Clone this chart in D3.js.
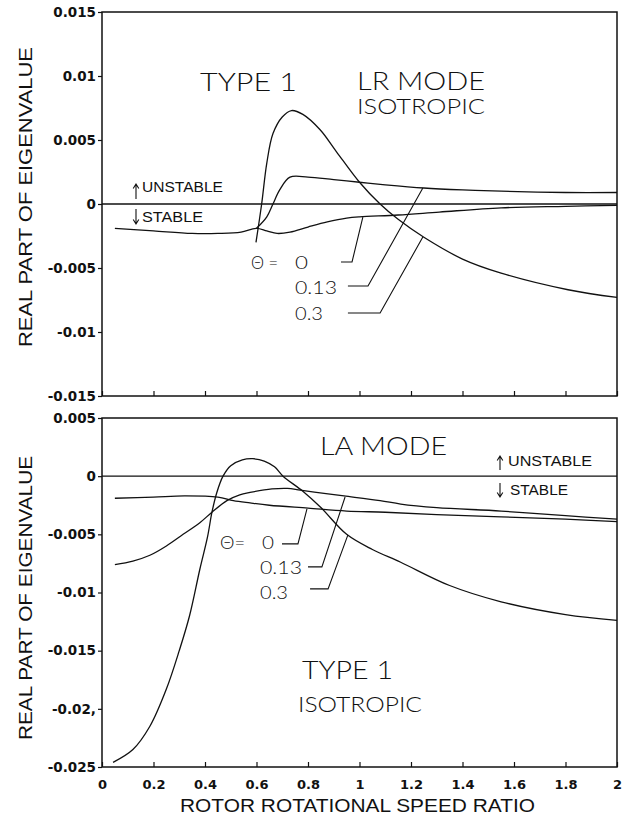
<!DOCTYPE html>
<html>
<head>
<meta charset="utf-8">
<script src="https://cdn.jsdelivr.net/npm/d3@7"></script>
<style>
  body { margin: 0; background: #fff; }
  text { fill: #111; }
</style>
</head>
<body>
<svg></svg>
<script>
// LR mode (upper panel): one x / value pair per theta
var lrX0 = [0.05, 0.2, 0.35, 0.45, 0.54, 0.6, 0.64, 0.68, 0.73, 0.8, 0.875, 0.95, 1.0, 1.15, 1.31, 1.55, 1.8, 2.0];
var lrV0 = [-0.0019, -0.0021, -0.0023, -0.0023, -0.0022, -0.0019, -0.0021, -0.0023, -0.0022, -0.0018, -0.0014, -0.0011, -0.001, -0.00086, -0.00063, -0.0003, -0.00018, -0.0001];

var lrX13 = [0.6, 0.64, 0.664, 0.69, 0.73, 0.8, 0.9, 1.0, 1.1, 1.25, 1.4, 1.55, 1.8, 2.0];
var lrV13 = [-0.0019, -0.001, 0, 0.0011, 0.0021, 0.0021, 0.0019, 0.0017, 0.0015, 0.00125, 0.0011, 0.001, 0.0009, 0.0009];

var lrX3 = [0.598, 0.62, 0.64, 0.664, 0.7, 0.736, 0.78, 0.847, 0.91, 1.0, 1.08, 1.15, 1.25, 1.4, 1.55, 1.81, 2.0];
var lrV3 = [-0.003, 0, 0.0032, 0.0055, 0.0068, 0.0073, 0.007, 0.0058, 0.0041, 0.0017, 0, -0.0012, -0.0026, -0.0043, -0.0054, -0.0067, -0.0073];

// LA mode (lower panel)
var laX0 = [0.05, 0.2, 0.32, 0.45, 0.51, 0.575, 0.65, 0.8, 0.95, 1.1, 1.3, 1.55, 1.8, 2.0];
var laV0 = [-0.0019, -0.0018, -0.0017, -0.0018, -0.0021, -0.0023, -0.0025, -0.00275, -0.003, -0.0031, -0.0033, -0.0035, -0.0037, -0.0039];

var laX13 = [0.05, 0.12, 0.186, 0.25, 0.315, 0.38, 0.427, 0.485, 0.535, 0.575, 0.66, 0.72, 0.77, 0.87, 0.94, 1.08, 1.16, 1.3, 1.55, 1.8, 2.0];
var laV13 = [-0.0076, -0.0073, -0.0068, -0.006, -0.005, -0.004, -0.0031, -0.0021, -0.0016, -0.0014, -0.0011, -0.00105, -0.0012, -0.0015, -0.0017, -0.0021, -0.0024, -0.0027, -0.003, -0.0034, -0.0037];

var laX3 = [0.043, 0.12, 0.186, 0.25, 0.3, 0.34, 0.38, 0.41, 0.427, 0.446, 0.47, 0.5, 0.545, 0.586, 0.63, 0.67, 0.703, 0.78, 0.85, 0.95, 1.05, 1.16, 1.35, 1.55, 1.8, 2.0];
var laV3 = [-0.0246, -0.0235, -0.0215, -0.0183, -0.015, -0.012, -0.008, -0.0052, -0.0031, -0.0014, 0, 0.0009, 0.0014, 0.0015, 0.0013, 0.0008, 0, -0.0013, -0.0027, -0.005, -0.0063, -0.0074, -0.0094, -0.0108, -0.0119, -0.0124];

var thetaLabels = ["0", "0.13", "0.3"];

var xTicks = [0, 0.2, 0.4, 0.6, 0.8, 1, 1.2, 1.4, 1.6, 1.8, 2];
var xTickLabels = ["0", "0.2", "0.4", "0.6", "0.8", "1", "1.2", "1.4", "1.6", "1.8", "2"];
var lrTicks = [0.015, 0.01, 0.005, 0, -0.005, -0.01, -0.015];
var lrTickLabels = ["0.015", "0.01", "0.005", "0", "-0.005", "-0.01", "-0.015"];
var laTicks = [0.005, 0, -0.005, -0.01, -0.015, -0.02, -0.025];
var laTickLabels = ["0.005", "0", "-0.005", "-0.01", "-0.015", "-0.02,", "-0.025"];

var svgWidth = 624, svgHeight = 817;

var svg = d3.select('svg')
    .attr('width', svgWidth)
    .attr('height', svgHeight)
    .style('background-color', 'white');

var x = d3.scaleLinear().domain([0, 2]).range([102, 617]);
var yTop = d3.scaleLinear().domain([-0.015, 0.015]).range([396, 12]);
var yBot = d3.scaleLinear().domain([-0.025, 0.005]).range([767, 418]);

var ink = '#111';
var tickFont = '"DejaVu Sans", sans-serif';
var labelFont = '"Liberation Sans", Arial, sans-serif';
var thinFont = 'Lato, "Liberation Sans", sans-serif';

// leader lines from the theta labels to their curve, in data units
var lrLeaders = [
    [[0.928, -0.00453], [0.971, -0.00453], [1.013, -0.00102]],
    [[0.955, -0.00641], [1.033, -0.00641], [1.246, 0.00125]],
    [[0.955, -0.00852], [1.080, -0.00852], [1.246, -0.00258]]
];
var laLeaders = [
    [[0.699, -0.00582], [0.761, -0.00582], [0.796, -0.00282]],
    [[0.800, -0.0078], [0.854, -0.0078], [0.944, -0.00179]],
    [[0.808, -0.00969], [0.878, -0.00969], [0.955, -0.00505]]
];

function zip(xs, vs) {
    return xs.map(function(d, i) { return [d, vs[i]]; });
}

function drawPanel(y, ticks, tickLabels, series, leaders, showXLabels) {
    var g = svg.append('g');
    var top = y.range()[1], bottom = y.range()[0];

    // bottom axis, ticks pointing inward
    var xAxis = d3.axisBottom(x)
        .tickValues(xTicks)
        .tickSizeInner(-5)
        .tickSizeOuter(0)
        .tickPadding(13)
        .tickFormat(function(d, i) { return showXLabels ? xTickLabels[i] : ''; });
    var xg = g.append('g')
        .attr('transform', 'translate(0,' + bottom + ')')
        .call(xAxis);
    xg.select('.domain').remove();
    xg.selectAll('line').attr('stroke', ink).attr('stroke-width', 1.2);
    xg.selectAll('text')
        .attr('font-family', tickFont)
        .attr('font-weight', 'bold')
        .attr('font-size', '13px')
        .attr('fill', ink);

    // left axis, ticks pointing outward
    var yAxis = d3.axisLeft(y)
        .tickValues(ticks)
        .tickSizeInner(4)
        .tickSizeOuter(0)
        .tickPadding(2)
        .tickFormat(function(d, i) { return tickLabels[i]; });
    var yg = g.append('g')
        .attr('transform', 'translate(' + x(0) + ',0)')
        .call(yAxis);
    yg.select('.domain').remove();
    yg.selectAll('line').attr('stroke', ink).attr('stroke-width', 1.2);
    yg.selectAll('text')
        .attr('font-family', tickFont)
        .attr('font-weight', 'bold')
        .attr('font-size', '13.5px')
        .attr('fill', ink);

    // frame
    g.append('rect')
        .attr('x', x(0))
        .attr('y', top)
        .attr('width', x(2) - x(0))
        .attr('height', bottom - top)
        .attr('fill', 'none')
        .attr('stroke', ink)
        .attr('stroke-width', 1.5);

    // zero line
    g.append('line')
        .attr('x1', x(0)).attr('x2', x(2))
        .attr('y1', y(0)).attr('y2', y(0))
        .attr('stroke', ink)
        .attr('stroke-width', 1.3);

    var line = d3.line()
        .x(function(d) { return x(d[0]); })
        .y(function(d) { return y(d[1]); })
        .curve(d3.curveCatmullRom.alpha(0.5));

    g.selectAll('path.curve')
        .data(series)
        .enter()
        .append('path')
        .attr('class', 'curve')
        .attr('d', line)
        .attr('fill', 'none')
        .attr('stroke', ink)
        .attr('stroke-width', 1.3);

    var leader = d3.line()
        .x(function(d) { return x(d[0]); })
        .y(function(d) { return y(d[1]); });

    g.selectAll('path.leader')
        .data(leaders)
        .enter()
        .append('path')
        .attr('class', 'leader')
        .attr('d', leader)
        .attr('fill', 'none')
        .attr('stroke', ink)
        .attr('stroke-width', 1.1);

    return g;
}

function label(txt, x0, base, size, len, font) {
    var t = svg.append('text')
        .attr('x', x0)
        .attr('y', base)
        .attr('font-family', font || thinFont)
        .attr('font-weight', font ? 'normal' : 300)
        .attr('font-size', size + 'px')
        .text(txt);
    if (len) t.attr('textLength', len).attr('lengthAdjust', 'spacingAndGlyphs');
    return t;
}

function arrow(ax, y1, y2) {
    // y1 = tail, y2 = head
    var dir = y2 < y1 ? 1 : -1;
    svg.append('path')
        .attr('d', 'M' + ax + ',' + y1 + 'L' + ax + ',' + y2 +
            'M' + (ax - 2.8) + ',' + (y2 + dir * 4.5) + 'L' + ax + ',' + y2 + 'L' + (ax + 2.8) + ',' + (y2 + dir * 4.5))
        .attr('fill', 'none')
        .attr('stroke', ink)
        .attr('stroke-width', 1.1);
}

drawPanel(yTop, lrTicks, lrTickLabels,
    [zip(lrX0, lrV0), zip(lrX13, lrV13), zip(lrX3, lrV3)], lrLeaders, false);
drawPanel(yBot, laTicks, laTickLabels,
    [zip(laX0, laV0), zip(laX13, laV13), zip(laX3, laV3)], laLeaders, true);

// upper panel texts
label('TYPE 1', 200, 91, 25, 97);
label('LR MODE', 357, 90, 25, 128);
label('ISOTROPIC', 357, 114, 21, 128);
label('UNSTABLE', 142, 192, 15, 81, labelFont);
label('STABLE', 142, 222, 15, 61, labelFont);
arrow(136, 199, 184);
arrow(136, 209, 224);
label('\u0398 =', 251, 269, 18, 27);
label(thetaLabels[0], 295, 269, 18, 13);
label(thetaLabels[1], 295, 294, 18, 42);
label(thetaLabels[2], 295, 320, 18, 28);

// lower panel texts
label('LA MODE', 320, 455, 25, 127);
label('UNSTABLE', 508, 466, 15, 84, labelFont);
label('STABLE', 510, 495, 15, 58, labelFont);
arrow(500, 470, 456);
arrow(500, 483, 497);
label('TYPE 1', 302, 679, 25, 91);
label('ISOTROPIC', 298, 712, 21, 124);
label('\u0398=', 220, 549, 18, 25);
label(thetaLabels[0], 262, 549, 18, 12);
label(thetaLabels[1], 260, 574, 18, 42);
label(thetaLabels[2], 260, 599, 18, 28);

// axis titles
svg.append('text')
    .attr('transform', 'translate(25,197) rotate(-90)')
    .attr('text-anchor', 'middle')
    .attr('dy', '0.35em')
    .attr('font-family', labelFont)
    .attr('font-size', '19px')
    .attr('textLength', 300)
    .attr('lengthAdjust', 'spacingAndGlyphs')
    .text('REAL PART OF EIGENVALUE');

svg.append('text')
    .attr('transform', 'translate(25,598) rotate(-90)')
    .attr('text-anchor', 'middle')
    .attr('dy', '0.35em')
    .attr('font-family', labelFont)
    .attr('font-size', '19px')
    .attr('textLength', 284)
    .attr('lengthAdjust', 'spacingAndGlyphs')
    .text('REAL PART OF EIGENVALUE');

svg.append('text')
    .attr('x', 180)
    .attr('y', 812)
    .attr('font-family', labelFont)
    .attr('font-size', '18px')
    .attr('textLength', 355)
    .attr('lengthAdjust', 'spacingAndGlyphs')
    .text('ROTOR ROTATIONAL SPEED RATIO');
</script>
</body>
</html>
